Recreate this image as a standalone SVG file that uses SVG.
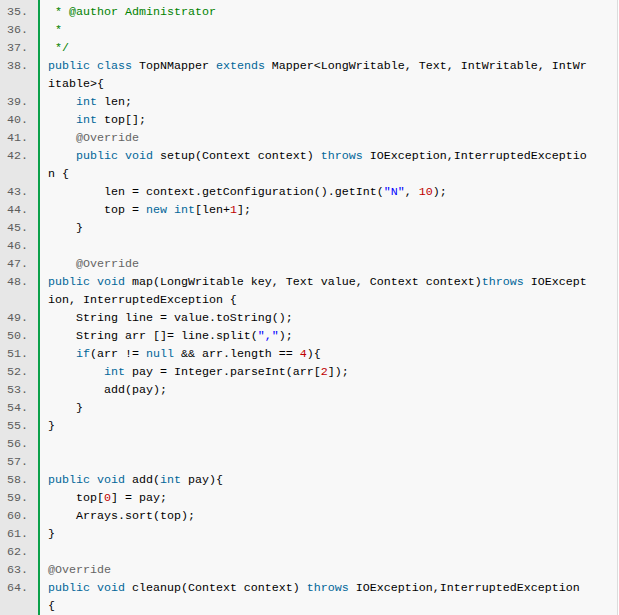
<svg xmlns="http://www.w3.org/2000/svg" width="619" height="615" viewBox="0 0 619 615">
<style>
text{font-family:"Liberation Mono","Courier New",monospace;font-size:11.67px;white-space:pre;fill:#000}
.n{fill:#5c5c5c}
.k{fill:#006699}
.c{fill:#008200}
.a{fill:#646464}
.s{fill:#0000ff}
.d{fill:#c00000}
</style>
<rect x="0" y="0" width="619" height="615" fill="#ffffff"/>
<rect x="0" y="0" width="38" height="615" fill="#e7e7e7"/>
<rect x="40" y="0" width="577" height="615" fill="#f8f8f8"/>
<rect x="38" y="0" width="2" height="615" fill="#0ba04a"/>
<rect x="617" y="0" width="1" height="615" fill="#dcdcdc"/>
<g id="gutter">
<text class="n" x="7" y="15">35.</text>
<text class="n" x="7" y="33">36.</text>
<text class="n" x="7" y="51">37.</text>
<text class="n" x="7" y="69">38.</text>
<text class="n" x="7" y="105">39.</text>
<text class="n" x="7" y="123">40.</text>
<text class="n" x="7" y="141">41.</text>
<text class="n" x="7" y="159">42.</text>
<text class="n" x="7" y="195">43.</text>
<text class="n" x="7" y="213">44.</text>
<text class="n" x="7" y="231">45.</text>
<text class="n" x="7" y="249">46.</text>
<text class="n" x="7" y="267">47.</text>
<text class="n" x="7" y="285">48.</text>
<text class="n" x="7" y="321">49.</text>
<text class="n" x="7" y="339">50.</text>
<text class="n" x="7" y="357">51.</text>
<text class="n" x="7" y="375">52.</text>
<text class="n" x="7" y="393">53.</text>
<text class="n" x="7" y="411">54.</text>
<text class="n" x="7" y="429">55.</text>
<text class="n" x="7" y="447">56.</text>
<text class="n" x="7" y="465">57.</text>
<text class="n" x="7" y="483">58.</text>
<text class="n" x="7" y="501">59.</text>
<text class="n" x="7" y="519">60.</text>
<text class="n" x="7" y="537">61.</text>
<text class="n" x="7" y="555">62.</text>
<text class="n" x="7" y="573">63.</text>
<text class="n" x="7" y="591">64.</text>
</g>
<g id="code" xml:space="preserve">
<text class="c" x="48" y="15"> * @author Administrator</text>
<text class="c" x="48" y="33"> *</text>
<text class="c" x="48" y="51"> */</text>
<text x="48" y="69"><tspan class="k">public class</tspan> TopNMapper <tspan class="k">extends</tspan> Mapper&lt;LongWritable, Text, IntWritable, IntWr</text>
<text x="48" y="87">itable&gt;{</text>
<text x="48" y="105">    <tspan class="k">int</tspan> len;</text>
<text x="48" y="123">    <tspan class="k">int</tspan> top[];</text>
<text class="a" x="48" y="141">    @Override</text>
<text x="48" y="159">    <tspan class="k">public void</tspan> setup(Context context) <tspan class="k">throws</tspan> IOException,InterruptedExceptio</text>
<text x="48" y="177">n {</text>
<text x="48" y="195">        len = context.getConfiguration().getInt(<tspan class="s">"N"</tspan>, <tspan class="d">10</tspan>);</text>
<text x="48" y="213">        top = <tspan class="k">new int</tspan>[len+<tspan class="d">1</tspan>];</text>
<text x="48" y="231">    }</text>
<text class="a" x="48" y="267">    @Override</text>
<text x="48" y="285"><tspan class="k">public void</tspan> map(LongWritable key, Text value, Context context)<tspan class="k">throws</tspan> IOExcept</text>
<text x="48" y="303">ion, InterruptedException {</text>
<text x="48" y="321">    String line = value.toString();</text>
<text x="48" y="339">    String arr []= line.split(<tspan class="s">","</tspan>);</text>
<text x="48" y="357">    <tspan class="k">if</tspan>(arr != <tspan class="k">null</tspan> &amp;&amp; arr.length == <tspan class="d">4</tspan>){</text>
<text x="48" y="375">        <tspan class="k">int</tspan> pay = Integer.parseInt(arr[<tspan class="d">2</tspan>]);</text>
<text x="48" y="393">        add(pay);</text>
<text x="48" y="411">    }</text>
<text x="48" y="429">}</text>
<text x="48" y="483"><tspan class="k">public void</tspan> add(<tspan class="k">int</tspan> pay){</text>
<text x="48" y="501">    top[<tspan class="d">0</tspan>] = pay;</text>
<text x="48" y="519">    Arrays.sort(top);</text>
<text x="48" y="537">}</text>
<text class="a" x="48" y="573">@Override</text>
<text x="48" y="591"><tspan class="k">public void</tspan> cleanup(Context context) <tspan class="k">throws</tspan> IOException,InterruptedException</text>
<text x="48" y="609">{</text>
</g>
</svg>
